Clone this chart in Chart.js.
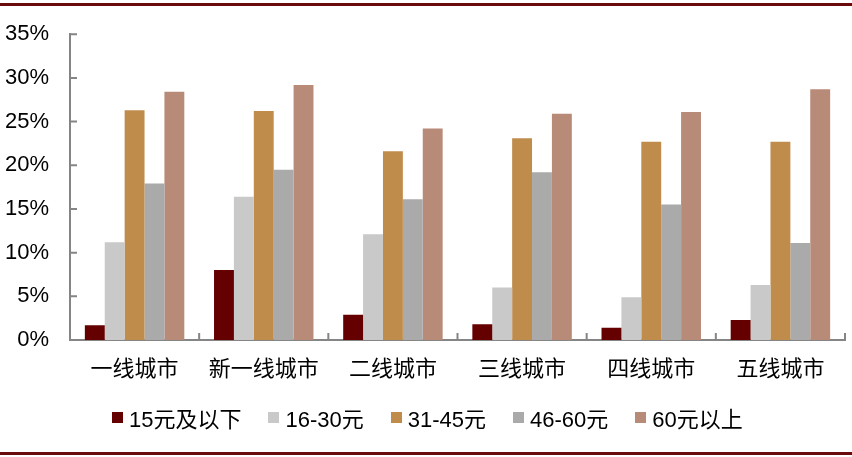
<!DOCTYPE html>
<html>
<head>
<meta charset="utf-8">
<script src="https://cdn.jsdelivr.net/npm/chart.js@4/dist/chart.umd.min.js"></script>
<style>
  html, body { margin: 0; padding: 0; background: #fff; }
  #wrap { position: relative; width: 852px; height: 457px; }
  #topline { position: absolute; left: 0; top: 3px; width: 852px; height: 3px; background: #6b0a0a; }
  #botline { position: absolute; left: 0; top: 452px; width: 852px; height: 3px; background: #6b0a0a; }
  #legend { position: absolute; left: 112px; top: 403px; height: 28px; display: flex; align-items: center;
            font-family: "Liberation Sans", Arial, "Noto Sans CJK SC", sans-serif; font-size: 22px; color: #000; }
  .item { display: flex; align-items: center; margin-right: 27px; white-space: nowrap; }
  .box { width: 11px; height: 11px; margin-right: 6px; }
</style>
</head>
<body>
<div id="wrap">
  <canvas id="myChart" width="852" height="457"></canvas>
  <div id="topline"></div>
  <div id="botline"></div>
  <div id="legend"></div>
</div>
<script>
// Catégories et séries
const categories = ['一线城市', '新一线城市', '二线城市', '三线城市', '四线城市', '五线城市'];
const seriesNames = ['15元及以下', '16-30元', '31-45元', '46-60元', '60元以上'];
const colors = ['#650000', '#c9c9c9', '#bf8c4c', '#aaaaaa', '#b88a78'];

const s15 = [1.7, 8.0, 2.9, 1.8, 1.4, 2.3];
const s16_30 = [11.2, 16.4, 12.1, 6.0, 4.9, 6.3];
const s31_45 = [26.3, 26.2, 21.6, 23.1, 22.7, 22.7];
const s46_60 = [17.9, 19.5, 16.1, 19.2, 15.5, 11.1];
const s60 = [28.4, 29.2, 24.2, 25.9, 26.1, 28.7];
const seriesData = [s15, s16_30, s31_45, s46_60, s60];

const yTicks = [0, 5, 10, 15, 20, 25, 30, 35];

// Petites graduations vers l'intérieur
const innerTicks = {
    id: 'innerTicks',
    afterDraw(chart) {
        const ctx = chart.ctx;
        const x = chart.scales.x;
        const y = chart.scales.y;
        ctx.save();
        ctx.strokeStyle = '#858585';
        ctx.lineWidth = 2;
        ctx.beginPath();
        yTicks.forEach(v => {
            const py = y.getPixelForValue(v);
            ctx.moveTo(y.right, py);
            ctx.lineTo(y.right + 7, py);
        });
        for (let i = 0; i <= categories.length; i++) {
            const px = x.left + i * (x.width / categories.length);
            ctx.moveTo(px, x.top);
            ctx.lineTo(px, x.top - 7);
        }
        ctx.stroke();
        ctx.restore();
    }
};

var ctx1 = document.getElementById('myChart').getContext('2d');
var myChart = new Chart(ctx1, {
    type: 'bar',
    data: {
        labels: categories,
        datasets: seriesNames.map((name, i) => ({
            label: name,
            data: seriesData[i],
            backgroundColor: colors[i],
            borderWidth: 0,
            categoryPercentage: 0.77,
            barPercentage: 1.0
        }))
    },
    options: {
        responsive: false,
        animation: false,
        layout: { padding: { top: 33, right: 7, left: 0, bottom: 0 } },
        plugins: {
            legend: { display: false },
            tooltip: { enabled: false }
        },
        scales: {
            x: {
                grid: { display: false, drawTicks: false },
                border: { color: '#858585', width: 2 },
                ticks: {
                    padding: 14,
                    color: '#000',
                    font: { family: '"Noto Sans CJK SC", sans-serif', size: 22 }
                },
                afterFit(scale) { scale.height = 117; }
            },
            y: {
                min: 0,
                max: 35,
                grid: { display: false, drawTicks: false },
                border: { color: '#858585', width: 2 },
                afterBuildTicks(scale) { scale.ticks = yTicks.map(v => ({ value: v })); },
                ticks: {
                    padding: 21,
                    color: '#000',
                    font: { family: '"Liberation Sans", Arial, sans-serif', size: 22 },
                    callback: v => v + '%'
                },
                afterFit(scale) { scale.width = 70; }
            }
        }
    },
    plugins: [innerTicks]
});

// Légende HTML
const legend = document.getElementById('legend');
seriesNames.forEach((name, i) => {
    const item = document.createElement('div');
    item.className = 'item';
    const box = document.createElement('span');
    box.className = 'box';
    box.style.background = colors[i];
    const txt = document.createElement('span');
    txt.textContent = name;
    item.appendChild(box);
    item.appendChild(txt);
    legend.appendChild(item);
});
</script>
</body>
</html>
